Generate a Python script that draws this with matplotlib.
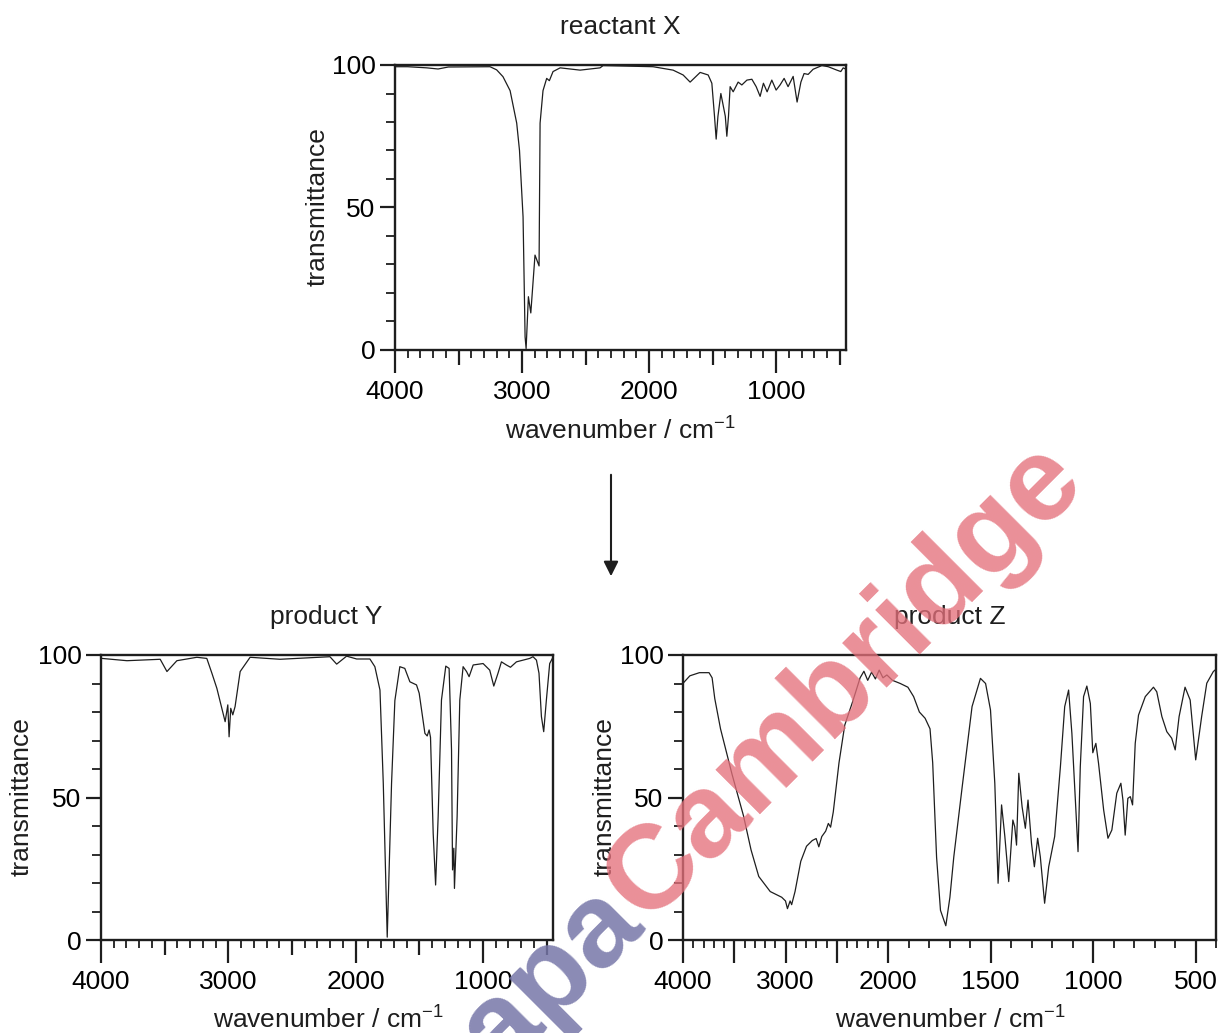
import matplotlib.pyplot as plt
import numpy as np
from matplotlib.patches import FancyArrowPatch
from matplotlib.ticker import FixedLocator, FixedFormatter, MultipleLocator

plt.rcParams['font.family'] = ['Liberation Sans', 'DejaVu Sans']
plt.rcParams['mathtext.fontset'] = 'custom'
plt.rcParams['mathtext.rm'] = 'Liberation Sans'
plt.rcParams['mathtext.it'] = 'Liberation Sans'

# reactant X  (wavenumber / cm-1, transmittance)
x_wn = [4000, 3900, 3750, 3661, 3580, 3252, 3200, 3150, 3094, 3042, 3020, 2992,
        2976, 2968, 2950, 2931, 2898, 2866, 2862, 2858, 2835, 2806, 2785, 2756,
        2700, 2543, 2386, 2362, 1969, 1811, 1732, 1677, 1598, 1535, 1506, 1485,
        1472, 1458, 1435, 1400, 1388, 1375, 1362, 1338, 1299, 1270, 1230, 1191,
        1157, 1126, 1100, 1071, 1034, 1000, 969, 937, 906, 866, 835, 805, 780,
        748, 709, 640, 590, 522, 491, 472, 450]
x_tr = [99.4, 99.4, 99.0, 98.6, 99.3, 99.4, 98.3, 95.9, 91.0, 79.6, 70.0, 46.7,
        4.6, 0.5, 18.7, 13.0, 33.3, 29.5, 55.0, 79.6, 91.0, 95.3, 94.5, 97.7,
        99.0, 98.2, 99.0, 99.8, 99.4, 98.2, 96.5, 94.0, 97.4, 96.5, 93.6, 82.0,
        74.0, 82.0, 90.0, 82.0, 75.0, 82.0, 92.4, 90.6, 94.0, 93.0, 94.7, 95.0,
        92.4, 89.0, 93.6, 90.6, 94.7, 91.2, 93.0, 95.3, 92.4, 96.0, 87.0, 94.0,
        97.0, 96.7, 98.5, 99.8, 99.4, 98.2, 97.7, 99.0, 98.5]

# product Y
y_wn = [4000, 3992, 3796, 3535, 3482, 3404, 3247, 3169, 3129, 3090, 3025, 3004,
        2994, 2981, 2965, 2947, 2907, 2829, 2594, 2202, 2149, 2071, 1992, 1888,
        1849, 1809, 1783, 1752, 1718, 1692, 1653, 1614, 1574, 1522, 1501, 1456,
        1438, 1423, 1412, 1391, 1372, 1352, 1326, 1292, 1266, 1247, 1239, 1229,
        1224, 1203, 1182, 1156, 1129, 1109, 1098, 1077, 999, 947, 915, 882, 855,
        816, 784, 737, 633, 607, 580, 560, 541, 523, 502, 476, 455]
y_tr = [98.8, 98.8, 98.0, 98.5, 94.2, 98.0, 99.2, 98.8, 93.6, 88.3, 76.6, 82.5,
        71.3, 81.3, 79.0, 81.9, 94.2, 99.2, 98.5, 99.4, 96.8, 99.6, 98.6, 98.6,
        95.9, 87.7, 55.0, 1.0, 55.0, 84.0, 95.9, 95.3, 90.6, 89.5, 86.6, 72.5,
        71.6, 73.7, 71.1, 37.4, 19.3, 43.3, 84.2, 96.1, 95.3, 66.7, 24.6, 32.2,
        18.1, 43.3, 84.2, 95.9, 94.2, 92.4, 93.8, 96.5, 97.0, 94.7, 89.1, 93.6,
        97.6, 96.5, 95.7, 97.6, 98.8, 99.4, 98.2, 93.6, 78.4, 73.1, 84.2, 97.0,
        98.8]

# product Z
z_wn = [4000, 3989, 3933, 3840, 3746, 3716, 3690, 3634, 3522, 3410, 3336, 3261,
        3149, 3037, 3000, 2981, 2955, 2940, 2907, 2851, 2795, 2739, 2701, 2675,
        2646, 2608, 2582, 2560, 2534, 2478, 2422, 2347, 2272, 2235, 2198, 2160,
        2123, 2086, 2049, 2011, 1978, 1940, 1903, 1875, 1847, 1819, 1795, 1782,
        1763, 1744, 1718, 1698, 1679, 1638, 1590, 1549, 1524, 1500, 1479, 1463,
        1446, 1430, 1411, 1391, 1382, 1373, 1362, 1346, 1330, 1317, 1300, 1286,
        1270, 1257, 1236, 1216, 1187, 1159, 1138, 1119, 1103, 1086, 1073, 1062,
        1046, 1030, 1013, 1001, 986, 973, 948, 927, 908, 884, 864, 854, 843, 830,
        818, 807, 794, 778, 745, 705, 689, 664, 640, 616, 599, 580, 551, 526,
        499, 470, 445, 413, 400]
z_tr = [90.0, 90.5, 92.7, 93.8, 93.8, 92.0, 84.7, 74.1, 58.2, 43.6, 31.6, 22.3,
        17.0, 15.0, 13.7, 11.0, 13.7, 12.4, 17.0, 27.6, 32.9, 34.9, 35.6, 32.7,
        36.3, 38.2, 40.9, 39.6, 44.9, 62.2, 75.4, 83.4, 92.0, 94.3, 91.1, 94.0,
        91.6, 94.7, 92.0, 93.0, 91.1, 90.0, 88.7, 85.4, 80.0, 77.8, 74.1, 62.2,
        29.0, 10.4, 5.0, 15.0, 29.2, 53.8, 81.9, 91.8, 90.0, 80.7, 55.0, 19.9,
        47.4, 36.3, 20.5, 42.1, 39.8, 33.3, 58.5, 46.8, 39.2, 49.1, 33.9, 25.7,
        35.7, 29.2, 12.9, 25.7, 36.3, 60.8, 81.9, 87.7, 72.5, 49.1, 31.0, 60.8,
        85.4, 89.1, 83.0, 65.7, 69.0, 62.0, 45.6, 35.7, 38.6, 51.5, 55.0, 49.1,
        36.8, 49.7, 50.3, 47.4, 69.0, 78.9, 85.4, 88.7, 87.1, 78.4, 73.1, 70.8,
        66.7, 78.4, 88.7, 84.2, 63.2, 78.4, 90.1, 94.2, 95.0]

xy_ticks = [4000, 3500, 3000, 2500, 2000, 1500, 1000, 500]
xy_labels = ['4000', '', '3000', '', '2000', '', '1000', '']
z_ticks = [4000, 3500, 3000, 2500, 2000, 1500, 1000, 500]
z_labels = ['4000', '', '3000', '', '2000', '1500', '1000', '500']

FS = 19
INK = '#1e1e1e'
W, H = 1220, 1033


def fx(px):
    return px / W


def fy(py):
    return 1 - py / H


def style_axis(ax, ticks, labels, long_ticks):
    for s in ax.spines.values():
        s.set_linewidth(1.7)
        s.set_color(INK)
    ax.set_ylim(0, 100)
    ax.yaxis.set_major_locator(FixedLocator([0, 50, 100]))
    ax.yaxis.set_minor_locator(MultipleLocator(10))
    ax.xaxis.set_major_locator(FixedLocator(ticks))
    ax.xaxis.set_major_formatter(FixedFormatter(labels))
    ax.xaxis.set_minor_locator(MultipleLocator(100))
    ax.tick_params(axis='x', which='major', direction='out', length=16.5, width=1.6,
                   pad=5, labelsize=FS, color=INK)
    ax.tick_params(axis='x', which='minor', direction='out', length=6, width=1.3, color=INK)
    ax.tick_params(axis='y', which='major', direction='out', length=11, width=1.6,
                   pad=3, labelsize=FS, color=INK)
    ax.tick_params(axis='y', which='minor', direction='out', length=6.5, width=1.3, color=INK)
    for t, v in zip(ax.xaxis.get_major_ticks(), ticks):
        if v not in long_ticks:
            t.tick1line.set_markersize(11)


fig = plt.figure(figsize=(12.2, 10.33), dpi=100)

# reactant X
ax1 = fig.add_axes([fx(395), fy(350), fx(451), 285 / H])
ax1.plot(x_wn, x_tr, color=INK, lw=0.9)
ax1.set_xlim(4000, 450)
style_axis(ax1, xy_ticks, xy_labels, [4000, 3000, 2000, 1000])

# product Y
ax2 = fig.add_axes([fx(101), fy(940), fx(452), 285 / H])
ax2.plot(y_wn, y_tr, color=INK, lw=0.9)
ax2.set_xlim(4000, 450)
style_axis(ax2, xy_ticks, xy_labels, [4000, 3000, 2000, 1000])


# product Z: scale doubled below 2000 cm-1
def fwd(w):
    w = np.asarray(w, dtype=float)
    return np.where(w >= 2000, w, 2 * w - 2000)


def inv(p):
    p = np.asarray(p, dtype=float)
    return np.where(p >= 2000, p, (p + 2000) / 2)


ax3 = fig.add_axes([fx(683), fy(940), fx(533), 285 / H])
ax3.set_xscale('function', functions=(fwd, inv))
ax3.plot(z_wn, z_tr, color=INK, lw=0.9)
ax3.set_xlim(4000, 400)
style_axis(ax3, z_ticks, z_labels, z_ticks)

# titles and labels
for txt, x, y in [('reactant X', 620, 27), ('product Y', 326, 617), ('product Z', 950, 617)]:
    fig.text(fx(x), fy(y), txt, ha='center', va='center', fontsize=FS, color=INK)
for x, y in [(318, 207), (22, 797), (605, 797)]:
    fig.text(fx(x), fy(y), 'transmittance', ha='center', va='center', rotation=90,
             fontsize=FS, color=INK)
for x, y in [(620, 431), (328, 1020), (950, 1020)]:
    fig.text(fx(x), fy(y), 'wavenumber / cm$^{\\mathregular{-1}}$', ha='center', va='center',
             fontsize=FS, color=INK)

arrow = FancyArrowPatch((fx(611), fy(472)), (fx(611), fy(579)), transform=fig.transFigure,
                        arrowstyle='-|>', mutation_scale=22, lw=1.5, color=INK)
fig.add_artist(arrow)

# watermark
fig.text(fx(645), fy(924), 'Cambridge', rotation=45, rotation_mode='anchor',
         ha='left', va='baseline', fontsize=86, fontweight='bold',
         color='#e4707b', alpha=0.78, zorder=10)
fig.text(fx(645), fy(924), 'papa', rotation=45, rotation_mode='anchor',
         ha='right', va='baseline', fontsize=86, fontweight='bold',
         color='#7676a8', alpha=0.85, zorder=10)

fig.savefig('out.png', dpi=100)
